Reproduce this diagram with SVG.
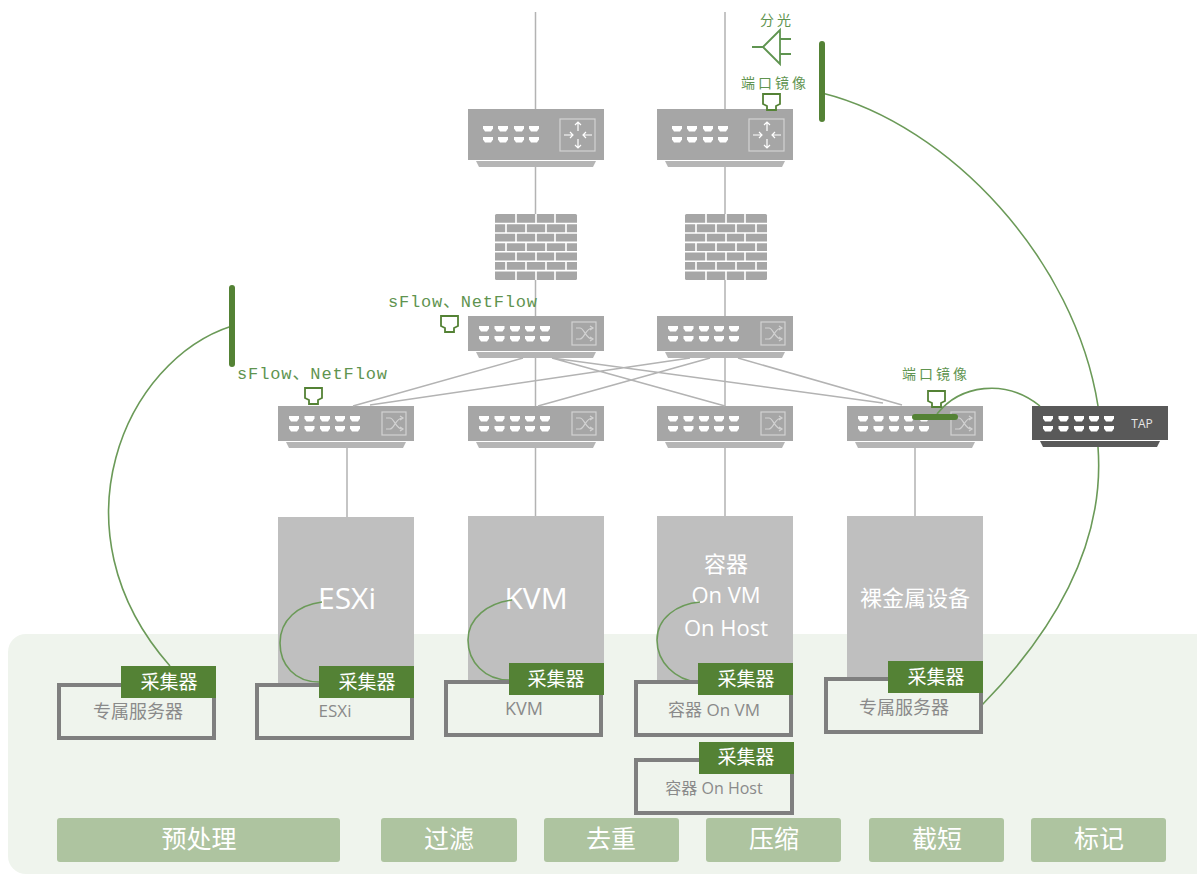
<svg xmlns="http://www.w3.org/2000/svg" width="1197" height="874" viewBox="0 0 1197 874">
<style>
text{font-family:"Open Sans","Noto Sans CJK SC",sans-serif;text-anchor:middle}
.host{fill:#bfbfbf}
.hosttxt{fill:#fff}
.frame{fill:none;stroke:#7f7f7f;stroke-width:4}
.framet{fill:#8a8a8a;font-size:18px}
.tag{fill:#548235}
.tagt{fill:#fff;font-size:19px;font-family:"Noto Sans CJK SC",sans-serif}
.bar{fill:#aec4a0;rx:3px}
.bart{fill:#fff;font-size:25px;font-family:"Noto Sans CJK SC",sans-serif}
.lbl{fill:#5f9450;font-size:14px;letter-spacing:3px;font-family:"Noto Sans CJK SC",sans-serif}
.mono{fill:#5f9450;font-size:17px;font-family:"Liberation Mono","Noto Sans CJK SC",monospace;text-anchor:start}
.net{fill:none;stroke:#b3b3b3;stroke-width:1.5}
.link{fill:none;stroke:#6b9a58;stroke-width:1.6}
.tapbar{stroke:#548235;stroke-width:6;stroke-linecap:round}
.portout{fill:none;stroke:#548235;stroke-width:1.8}
.icon{fill:none;stroke:#d2d2d2;stroke-width:1.2}
</style>
<defs>
<path id="p" d="M0 0H10V2.5L8 5.500H2L0 2.500Z" fill="#fff"/>
<g id="ports10">
<use href="#p" x="11" y="10"/><use href="#p" x="26.5" y="10"/><use href="#p" x="42" y="10"/><use href="#p" x="57" y="10"/><use href="#p" x="72" y="10"/>
<use href="#p" x="11" y="20"/><use href="#p" x="26.5" y="20"/><use href="#p" x="42" y="20"/><use href="#p" x="57" y="20"/><use href="#p" x="72" y="20"/>
</g>
<g id="sw">
<path d="M8 36H128L125 42H11Z" fill="#b5b5b5"/>
<rect width="136" height="35" fill="#a6a6a6"/>
<use href="#ports10"/>
<rect x="104" y="6" width="24" height="23" class="icon"/>
<path d="M108 12H112C116 12 118 23 124 23M108 23H112C116 23 118 12 124 12" class="icon"/>
<path d="M122 10L125 12L122 14M122 21L125 23L122 25" class="icon"/>
</g>
<g id="rt">
<path d="M8 52H128L125 58H11Z" fill="#b5b5b5"/>
<rect width="136" height="51" fill="#a6a6a6"/>
<use href="#p" x="15" y="17"/><use href="#p" x="30" y="17"/><use href="#p" x="46" y="17"/><use href="#p" x="61" y="17"/>
<use href="#p" x="15" y="28"/><use href="#p" x="30" y="28"/><use href="#p" x="46" y="28"/><use href="#p" x="61" y="28"/>
<rect x="92" y="10" width="35" height="32" class="icon"/>
<path d="M110 13V22M107 16L110 13L113 16M110 30V39M107 36L110 39L113 36M96 26H105M102 23L105 26L102 29M124 26H115M118 23L115 26L118 29" fill="none" stroke="#fff" stroke-width="1.2"/>
</g>
<g id="fw">
<rect width="82" height="66" rx="1.5" fill="#a6a6a6"/>
<path d="M0 9.5H82M0 19H82M0 28.4H82M0 37.8H82M0 47.2H82M0 56.6H82" stroke="#fff" stroke-width="1.6"/>
<path d="M21 0V9.5M41 0V9.5M60 0V9.5M11 9.5V19M31 9.5V19M51 9.5V19M71 9.5V19M21 19V28.4M41 19V28.4M60 19V28.4M11 28.4V37.8M31 28.4V37.8M51 28.4V37.8M71 28.4V37.8M21 37.8V47.2M41 37.8V47.2M60 37.8V47.2M11 47.2V56.6M31 47.2V56.6M51 47.2V56.6M71 47.2V56.6M21 56.6V66M41 56.6V66M60 56.6V66" stroke="#fff" stroke-width="1.6"/>
</g>
<path id="mir" d="M1 1H18V11L14 13V17H5V13L1 11Z" class="portout"/>
</defs>
<rect id="panel" x="8" y="634" width="1220" height="240" rx="18" fill="#eff4ed"/>

<g id="host-esxi"><rect x="278" y="517" width="136" height="168" class="host"/><text x="347" y="609" font-size="30" class="hosttxt">ESXi</text></g>
<g id="host-kvm"><rect x="468" y="516" width="136" height="166" class="host"/><text x="536" y="609" font-size="30" class="hosttxt">KVM</text></g>
<g id="host-container"><rect x="657" y="516" width="136" height="166" class="host"/><text x="726" y="572" font-size="22" class="hosttxt">容器</text><text x="726" y="603" font-size="22" class="hosttxt">On VM</text><text x="726" y="636" font-size="22" class="hosttxt">On Host</text></g>
<g id="host-bare"><rect x="847" y="516" width="136" height="162" class="host"/><text x="915" y="606" font-size="22" class="hosttxt">裸金属设备</text></g>

<use id="router1" href="#rt" x="468" y="109"/>
<use id="router2" href="#rt" x="657" y="109"/>
<use id="fw1" href="#fw" x="495" y="214"/>
<use id="fw2" href="#fw" x="685" y="214"/>
<use id="sw-a1" href="#sw" x="468" y="316"/>
<use id="sw-a2" href="#sw" x="657" y="316"/>
<use id="sw-b1" href="#sw" x="278" y="406"/>
<use id="sw-b2" href="#sw" x="468" y="406"/>
<use id="sw-b3" href="#sw" x="657" y="406"/>
<use id="sw-b4" href="#sw" x="847" y="406"/>
<g id="tap-device" transform="translate(1032 406)">
<path d="M8 35H128L125 41H11Z" fill="#595959"/>
<rect width="136" height="34" fill="#595959"/>
<use href="#ports10"/>
<text x="110" y="22" font-size="12" fill="#e6e6e6">TAP</text>
</g>

<g id="connectors">
<path class="net" d="M535.500 12V109M535.500 167V214M535.500 280V316M535.500 358V406M535.500 448V516M725 12V109M725 167V214M725 280V316M725 358V406M725 448V516M347 448V517M915 448V516"/>
<path class="net" d="M523 358L353 406M738 358L902 405M552 358L883 403M552 358L725 406M690 358L370 405M710 358L538 406"/>
<path class="link" d="M232 326C125 360 50 530 170 666"/>
<path class="link" d="M822 93C950 125 1075 260 1098 406"/>
<path class="link" d="M1098 447C1105 540 1060 625 982 705"/>
<path class="link" d="M937 414C960 385 1005 378 1040 406"/>
<path class="link" d="M319 682C295 682 280 665 280 643C280 620 298 605 322 602"/>
<path class="link" d="M509 680C485 680 468 662 468 640C468 618 488 603 512 600"/>
<path class="link" d="M698 682C675 680 657 662 657 640C657 618 677 604 700 602"/>
</g>

<g id="tap-left"><line x1="232" y1="288" x2="232" y2="364" class="tapbar"/></g>
<g id="tap-right"><line x1="822" y1="44" x2="822" y2="119" class="tapbar"/></g>
<g id="tap-sw"><line x1="915" y1="417" x2="955" y2="417" class="tapbar"/></g>

<g id="splitter">
<text x="777" y="25" class="lbl">分光</text>
<path d="M752 47H763L780 30V64L763 47M780 39H791M780 54H791" fill="none" stroke="#5f9450" stroke-width="1.8"/>
</g>
<g id="mirror-top"><text x="775" y="88" class="lbl">端口镜像</text><use href="#mir" x="762" y="93"/></g>
<g id="mirror-sw"><text x="936" y="379" class="lbl">端口镜像</text><use href="#mir" x="927" y="390"/></g>
<g id="netflow-a"><text x="388" y="307" class="mono" textLength="149" lengthAdjust="spacing">sFlow、NetFlow</text><use href="#mir" x="440" y="315"/></g>
<g id="netflow-b"><text x="237" y="379" class="mono" textLength="150" lengthAdjust="spacing">sFlow、NetFlow</text><use href="#mir" x="304" y="387"/></g>

<g id="server-left"><rect x="59" y="685" width="155" height="53" class="frame"/><rect x="121" y="666" width="95" height="32" class="tag"/><text x="169" y="689" class="tagt">采集器</text><text x="138" y="718" class="framet">专属服务器</text></g>
<g id="server-esxi"><rect x="257" y="685" width="155" height="53" class="frame"/><rect x="319" y="666" width="95" height="32" class="tag"/><text x="367" y="689" class="tagt">采集器</text><text x="335" y="717" class="framet" style="font-size:17px">ESXi</text></g>
<g id="server-kvm"><rect x="446" y="682" width="155" height="53" class="frame"/><rect x="509" y="663" width="95" height="32" class="tag"/><text x="556" y="686" class="tagt">采集器</text><text x="524" y="715" class="framet">KVM</text></g>
<g id="server-vm"><rect x="636" y="682" width="155" height="53" class="frame"/><rect x="698" y="663" width="95" height="32" class="tag"/><text x="746" y="686" class="tagt">采集器</text><text x="714" y="716" class="framet" style="font-size:17px">容器 On VM</text></g>
<g id="server-host"><rect x="636" y="760" width="156" height="53" class="frame"/><rect x="699" y="742" width="95" height="32" class="tag"/><text x="746" y="764" class="tagt">采集器</text><text x="714" y="794" class="framet" style="font-size:16px">容器 On Host</text></g>
<g id="server-right"><rect x="826" y="679" width="155" height="53" class="frame"/><rect x="888" y="661" width="95" height="32" class="tag"/><text x="936" y="684" class="tagt">采集器</text><text x="904" y="714" class="framet">专属服务器</text></g>

<g id="step-pre"><rect x="57" y="818" width="283" height="44" class="bar"/><text x="199" y="848" class="bart">预处理</text></g>
<g id="step-filter"><rect x="381" y="818" width="136" height="44" class="bar"/><text x="449" y="848" class="bart">过滤</text></g>
<g id="step-dedup"><rect x="544" y="818" width="135" height="44" class="bar"/><text x="611" y="848" class="bart">去重</text></g>
<g id="step-compress"><rect x="706" y="818" width="135" height="44" class="bar"/><text x="774" y="848" class="bart">压缩</text></g>
<g id="step-trunc"><rect x="869" y="818" width="135" height="44" class="bar"/><text x="937" y="848" class="bart">截短</text></g>
<g id="step-mark"><rect x="1031" y="818" width="135" height="44" class="bar"/><text x="1099" y="848" class="bart">标记</text></g>
</svg>
